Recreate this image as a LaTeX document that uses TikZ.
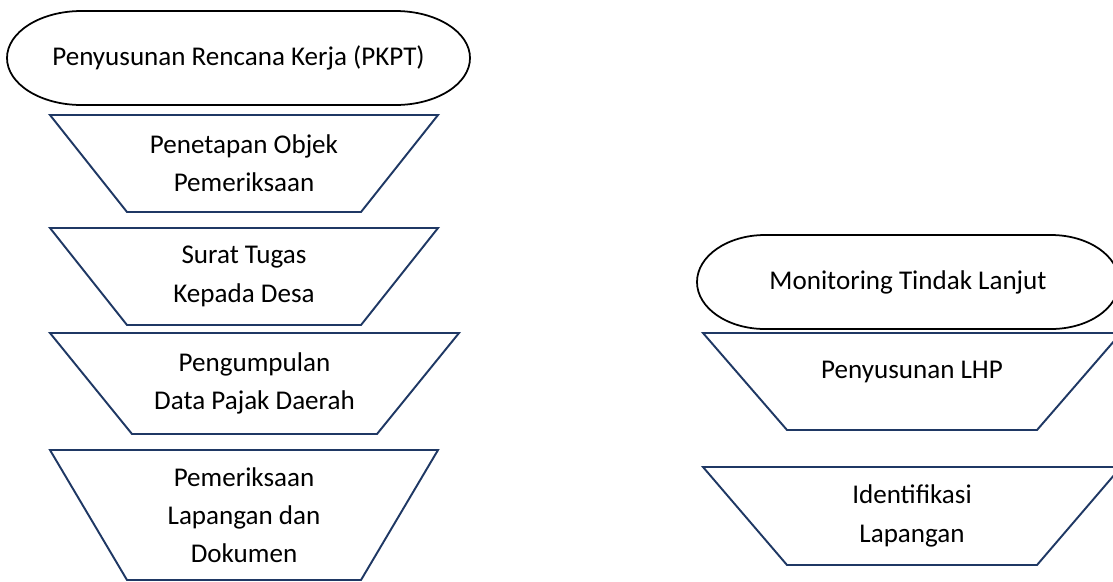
\documentclass[tikz,border=0pt]{standalone}
\usepackage{fontspec}
\setmainfont{Carlito}
\definecolor{navy}{RGB}{31,56,100}

\begin{document}
\begin{tikzpicture}[style=thick,scale=1]
\newcommand{\boxfont}{\fontsize{15.4}{21.8}\selectfont}
\newcommand{\manual}[2]{\draw[manual] (#1.north west) -- (#1.north east) -- ([xshift=-#2]#1.south east) -- ([xshift=#2]#1.south west) -- cycle;}
\useasboundingbox (0,0) rectangle (22.26,-11.62);
\tikzstyle{every node}=[font=\boxfont,align=center,inner sep=0pt,outer sep=0pt]
\tikzstyle{manual}=[draw=navy,line width=1.1pt]
\tikzstyle{terminal}=[draw=black,line width=1pt]
% terminators, outline drawn below
\node[minimum width=9.26cm,minimum height=1.88cm] (pkpt) at (4.77,-1.16) {Penyusunan Rencana Kerja (PKPT)};
\node[minimum width=8.44cm,minimum height=1.88cm] (monitor) at (18.16,-5.64) {Monitoring Tindak Lanjut};
% left column
\node[minimum width=7.76cm,minimum height=1.94cm] (objek) at (4.88,-3.27) {Penetapan Objek\\Pemeriksaan};
\node[minimum width=7.76cm,minimum height=1.94cm] (surat) at (4.88,-5.53) {Surat Tugas\\Kepada Desa};
\node[minimum width=8.18cm,minimum height=2.02cm] (data) at (5.09,-7.67) {Pengumpulan\\Data Pajak Daerah};
\node[minimum width=7.76cm,minimum height=2.60cm] (periksa) at (4.88,-10.30) {Pemeriksaan\\Lapangan dan\\Dokumen};
% right column
\node[minimum width=8.36cm,minimum height=1.94cm,text depth=0.46cm] (lhp) at (18.24,-7.63) {Penyusunan LHP};
\node[minimum width=8.36cm,minimum height=1.96cm] (ident) at (18.24,-10.32) {Identifikasi\\Lapangan};
\manual{objek}{1.54cm}
\manual{surat}{1.54cm}
\manual{data}{1.64cm}
\manual{periksa}{1.54cm}
\manual{lhp}{1.68cm}
\manual{ident}{1.68cm}
\draw[terminal] ([xshift=1.49cm]pkpt.north west) -- ([xshift=-1.49cm]pkpt.north east)
  arc[start angle=90,end angle=-90,x radius=1.49,y radius=0.94] -- ([xshift=1.49cm]pkpt.south west)
  arc[start angle=270,end angle=90,x radius=1.49,y radius=0.94] -- cycle;
\draw[terminal] ([xshift=1.36cm]monitor.north west) -- ([xshift=-1.36cm]monitor.north east)
  arc[start angle=90,end angle=-90,x radius=1.36,y radius=0.94] -- ([xshift=1.36cm]monitor.south west)
  arc[start angle=270,end angle=90,x radius=1.36,y radius=0.94] -- cycle;
\end{tikzpicture}
\end{document}
